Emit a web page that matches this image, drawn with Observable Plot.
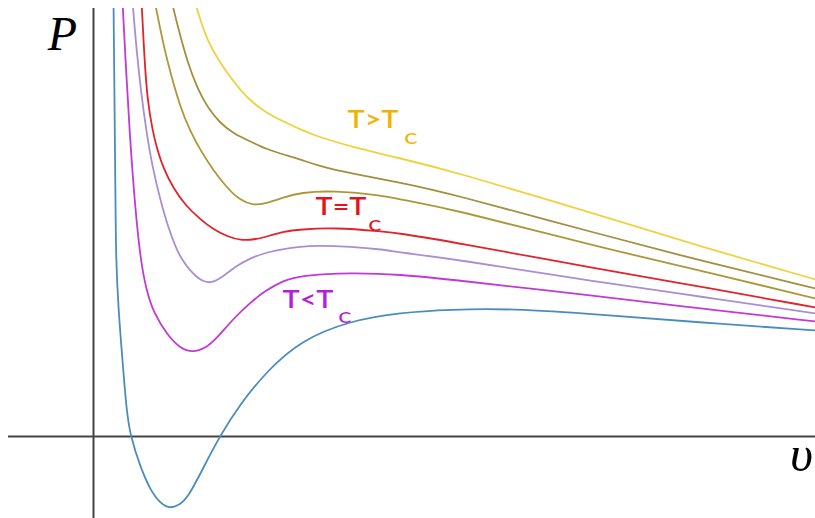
<!DOCTYPE html>
<html><head><meta charset="utf-8">
<script src="https://cdn.jsdelivr.net/npm/d3@7"></script>
<script src="https://cdn.jsdelivr.net/npm/@observablehq/plot@0.6"></script>
<style>body{margin:0;background:#fff}</style>
</head><body><div id="chart"></div>
<script>
// Isotherms, [v, P] pairs in arbitrary units
const isoBlue = [[0.20,4.36],[0.21,3.36],[0.22,2.36],[0.225,1.76],[0.25,1.26],[0.29,0.76],[0.33,0.26],[0.37,0],[0.47,-0.31],[0.57,-0.54],[0.67,-0.67],[0.76,-0.72],[0.85,-0.69],[0.94,-0.62],[1.10,-0.31],[1.26,0],[1.47,0.33],[1.74,0.66],[2.07,0.96],[2.57,1.16],[3.07,1.24],[3.57,1.27],[4.17,1.28],[5.07,1.22],[6.07,1.14],[7.22,1.06]];
const isoMagenta = [[0.29,4.36],[0.32,3.76],[0.36,3.06],[0.41,2.36],[0.47,1.76],[0.53,1.46],[0.60,1.24],[0.74,1.01],[0.87,0.88],[0.99,0.84],[1.12,0.88],[1.24,0.99],[1.40,1.18],[1.57,1.34],[1.72,1.46],[1.90,1.56],[2.07,1.61],[2.57,1.64],[3.07,1.62],[3.57,1.57],[5.07,1.40],[6.07,1.28],[7.22,1.15]];
const isoLavender = [[0.39,4.36],[0.43,3.86],[0.48,3.41],[0.53,3.04],[0.59,2.69],[0.67,2.36],[0.75,2.08],[0.82,1.90],[0.87,1.79],[0.97,1.65],[1.07,1.56],[1.17,1.53],[1.27,1.58],[1.42,1.70],[1.54,1.77],[1.74,1.85],[2.07,1.90],[2.24,1.91],[2.57,1.90],[2.90,1.87],[3.07,1.84],[3.57,1.78],[5.07,1.54],[6.07,1.40],[7.22,1.23]];
const isoRed = [[0.48,4.36],[0.51,3.76],[0.54,3.36],[0.59,3.06],[0.64,2.86],[0.70,2.68],[0.80,2.48],[0.92,2.31],[1.07,2.17],[1.20,2.07],[1.34,2.00],[1.47,1.96],[1.62,1.97],[1.77,2.01],[1.90,2.05],[2.07,2.07],[2.40,2.09],[2.90,2.05],[3.07,2.03],[3.57,1.95],[5.07,1.67],[6.07,1.50],[7.22,1.29]];
const isoOliveLow = [[0.61,4.36],[0.67,4.06],[0.74,3.74],[0.87,3.28],[0.97,3.05],[1.07,2.86],[1.20,2.66],[1.34,2.48],[1.47,2.36],[1.60,2.31],[1.72,2.33],[1.90,2.39],[2.07,2.44],[2.40,2.46],[2.90,2.41],[3.07,2.37],[3.57,2.28],[5.07,1.89],[6.07,1.66],[7.22,1.38]];
const isoOliveHigh = [[0.78,4.36],[0.84,4.11],[0.94,3.74],[1.04,3.48],[1.14,3.29],[1.27,3.13],[1.40,3.03],[1.57,2.95],[1.74,2.87],[1.90,2.82],[2.07,2.77],[2.24,2.71],[2.57,2.63],[3.07,2.54],[3.57,2.43],[5.07,2.02],[6.07,1.76],[7.22,1.48]];
const isoYellow = [[1.01,4.36],[1.07,4.16],[1.14,3.96],[1.24,3.78],[1.34,3.63],[1.47,3.46],[1.60,3.33],[1.74,3.23],[1.90,3.15],[2.07,3.07],[2.24,3.00],[2.57,2.90],[3.07,2.78],[3.57,2.66],[5.07,2.21],[6.07,1.90],[7.22,1.57]];

const seriesNames = ["blue","magenta","lavender","red","oliveLow","oliveHigh","yellow"];
const seriesData = [isoBlue, isoMagenta, isoLavender, isoRed, isoOliveLow, isoOliveHigh, isoYellow];

// Labels (data units)
const labelMain = ["T>T","T=T","T<T"];
const labelSub = ["C","C","C"];
const labelV = [2.54, 2.22, 1.89];
const labelP = [3.09, 2.22, 1.29];
const subV = [3.11, 2.75, 2.45];
const subP = [2.93, 2.06, 1.14];

// Styles
const seriesColors = {blue:"#4a8dbd", magenta:"#c23ad6", lavender:"#a98fd2", red:"#e2232c", oliveLow:"#ad9736", oliveHigh:"#a48f3e", yellow:"#f0d13f"};
const labelColors = ["#f0b400","#e5131c","#b41fdc"];
const labelStretch = 1.2;

const rows = seriesNames.flatMap((name, i) => seriesData[i].map(([v, P]) => ({name, v, P})));
const labels = labelMain.map((t, i) => ({t, v: labelV[i], P: labelP[i], color: labelColors[i]}));
const subs = labelSub.map((t, i) => ({t, v: subV[i], P: subP[i], color: labelColors[i]}));

const svg = Plot.plot({
  width: 815, height: 518,
  marginLeft: 0, marginRight: 0, marginTop: 8, marginBottom: 0,
  x: {domain: [-0.93, 7.22], axis: null},
  y: {domain: [-0.82, 4.28], axis: null},
  color: {type: "identity"},
  style: {background: "#fff"},
  marks: [
    Plot.ruleX([0], {y1: -0.82, y2: 4.28, stroke: "#444", strokeWidth: 2}),
    Plot.ruleY([0], {x1: -0.85, x2: 7.22, stroke: "#444", strokeWidth: 2}),
    Plot.line(rows, {x: "v", y: "P", z: "name", stroke: d => seriesColors[d.name], curve: "basis", strokeWidth: 1.8, clip: true}),
    Plot.text(labels, {x: "v", y: "P", text: "t", fill: "color", fontSize: 24, fontWeight: 600, fontFamily: "Lato", textAnchor: "start", lineAnchor: "bottom"}),
    Plot.text(subs, {x: "v", y: "P", text: "t", fill: "color", fontSize: 16, fontWeight: 600, fontFamily: "Lato", textAnchor: "start", lineAnchor: "bottom"}),
    Plot.text(["P"], {x: -0.31, y: 3.87, text: d => d, fontSize: 48, fontFamily: "Liberation Serif", fontStyle: "italic", fill: "#000", textAnchor: "middle", lineAnchor: "bottom"}),
    Plot.text(["υ"], {x: 7.08, y: -0.34, text: d => d, fontSize: 50, fontFamily: "Liberation Serif", fontStyle: "italic", fill: "#000", textAnchor: "middle", lineAnchor: "bottom"})
  ]
});
// Stretch the T labels horizontally like the reference lettering
svg.querySelectorAll("text").forEach(t => {
  const s = t.textContent;
  if (labelMain.includes(s) || labelSub.includes(s)) {
    const tr = t.getAttribute("transform");
    if (tr) t.setAttribute("transform", tr + ` scale(${labelStretch},1)`);
    else {
      const x = +t.getAttribute("x") || 0, y = +t.getAttribute("y") || 0;
      t.removeAttribute("x"); t.removeAttribute("y");
      t.setAttribute("transform", `translate(${x},${y}) scale(${labelStretch},1)`);
    }
  }
});
document.getElementById("chart").appendChild(svg);
</script>
</body></html>
